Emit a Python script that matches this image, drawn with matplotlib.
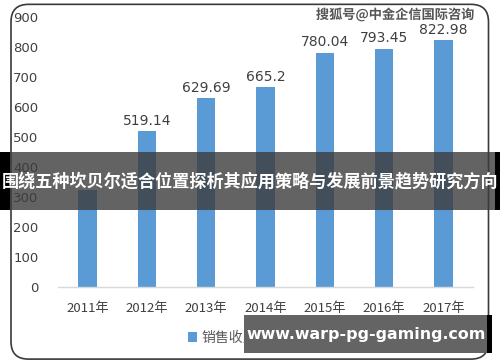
import matplotlib
matplotlib.use("Agg")
import matplotlib.pyplot as plt
from matplotlib.patches import FancyBboxPatch, Rectangle
import matplotlib.patheffects as pe

plt.rcParams["font.family"] = ["Noto Sans CJK SC", "DejaVu Sans"]

# ── Data ──────────────────────────────────────────────
years = ["2011年", "2012年", "2013年", "2014年", "2015年", "2016年", "2017年"]
revenue = [322.0, 519.14, 629.69, 665.2, 780.04, 793.45, 822.98]
value_labels = ["322", "519.14", "629.69", "665.2", "780.04", "793.45", "822.98"]
y_ticks = [0, 100, 200, 300, 400, 500, 600, 700, 800, 900]

series_name = "销售收入（亿元）"
source_mark = "搜狐号@中金企信国际咨询"
banner_text = "围绕五种坎贝尔适合位置探析其应用策略与发展前景趋势研究方向"
site_text = "www.warp-pg-gaming.com"

bar_color = "#5B9BD5"
text_color = "#404040"

# ── Figure ────────────────────────────────────────────
fig = plt.figure(figsize=(5.0, 3.62), dpi=100)
fig.patch.set_facecolor("white")

# rounded chart frame
frame = FancyBboxPatch(
    (0.022, 0.008), 0.955, 0.98,
    boxstyle="round,pad=0,rounding_size=0.035",
    transform=fig.transFigure,
    facecolor="white", edgecolor="#3a3a3a", linewidth=1.2,
    mutation_aspect=500 / 362, zorder=-5
)
fig.patches.append(frame)

ax = fig.add_axes([0.116, 0.207, 0.83, 0.746])
ax.set_facecolor("none")
x = range(len(years))
bars = ax.bar(x, revenue, width=0.31, color=bar_color, label=series_name, zorder=2)

for xi, val, lab in zip(x, revenue, value_labels):
    if xi == 0:
        continue  # hidden behind the banner in the reference
    ax.text(xi, val + 12, lab, ha="center", va="bottom",
            fontsize=10, color=text_color, family="DejaVu Sans")

ax.set_xlim(-0.5, 6.5)
ax.set_ylim(0, 900)
ax.set_yticks(y_ticks)
ax.set_yticklabels([str(t) for t in y_ticks], family="DejaVu Sans")
ax.set_xticks(list(x))
ax.set_xticklabels(years)
ax.tick_params(axis="y", length=0, pad=14, labelsize=9.5, labelcolor=text_color)
ax.tick_params(axis="x", length=0, pad=11, labelsize=9.5, labelcolor=text_color)
for s in ["top", "right", "left"]:
    ax.spines[s].set_visible(False)
ax.spines["bottom"].set_color("#d9d9d9")
ax.spines["bottom"].set_linewidth(1.0)

ax.legend(loc="center", bbox_to_anchor=(0.50, 1 - 338 / 362),
          bbox_transform=fig.transFigure, frameon=False,
          handlelength=0.7, handleheight=0.7, handletextpad=0.3,
          fontsize=10, labelcolor="#595959")

# source watermark top right
fig.text(0.95, 1 - 15 / 362, source_mark, ha="right", va="center",
         fontsize=9.5, fontweight="bold", color="#555555",
         path_effects=[pe.withStroke(linewidth=1.5, foreground="white")])

# ── Overlay banner across the middle ──────────────────
fig.patches.append(Rectangle((0.0, 1 - 210 / 362), 1.0, 58 / 362,
                             transform=fig.transFigure, facecolor="#3c3c3c",
                             alpha=0.8, zorder=5))
fig.patches.append(Rectangle((0.0, 1 - 210 / 362), 0.02, 58 / 362,
                             transform=fig.transFigure, facecolor="black", zorder=5))
fig.patches.append(Rectangle((0.99, 1 - 210 / 362), 0.01, 58 / 362,
                             transform=fig.transFigure, facecolor="black", zorder=5))
fig.text(0.5, 1 - 181 / 362, banner_text, ha="center", va="center",
         fontsize=12.3, fontweight="bold", color="white", zorder=6)

# ── Site box bottom right ─────────────────────────────
fig.patches.append(Rectangle((244 / 500, 1 - 353 / 362), 243 / 500, 38 / 362,
                             transform=fig.transFigure, facecolor="#646464", zorder=5))
fig.patches.append(Rectangle((487 / 500, 1 - 353 / 362), 5 / 500, 38 / 362,
                             transform=fig.transFigure, facecolor="black", zorder=5))
fig.text(366 / 500, 1 - 334 / 362, site_text, ha="center", va="center",
         fontsize=11.4, fontweight="bold", color="white",
         family="DejaVu Sans", zorder=6)

plt.savefig("out.png", dpi=100)
